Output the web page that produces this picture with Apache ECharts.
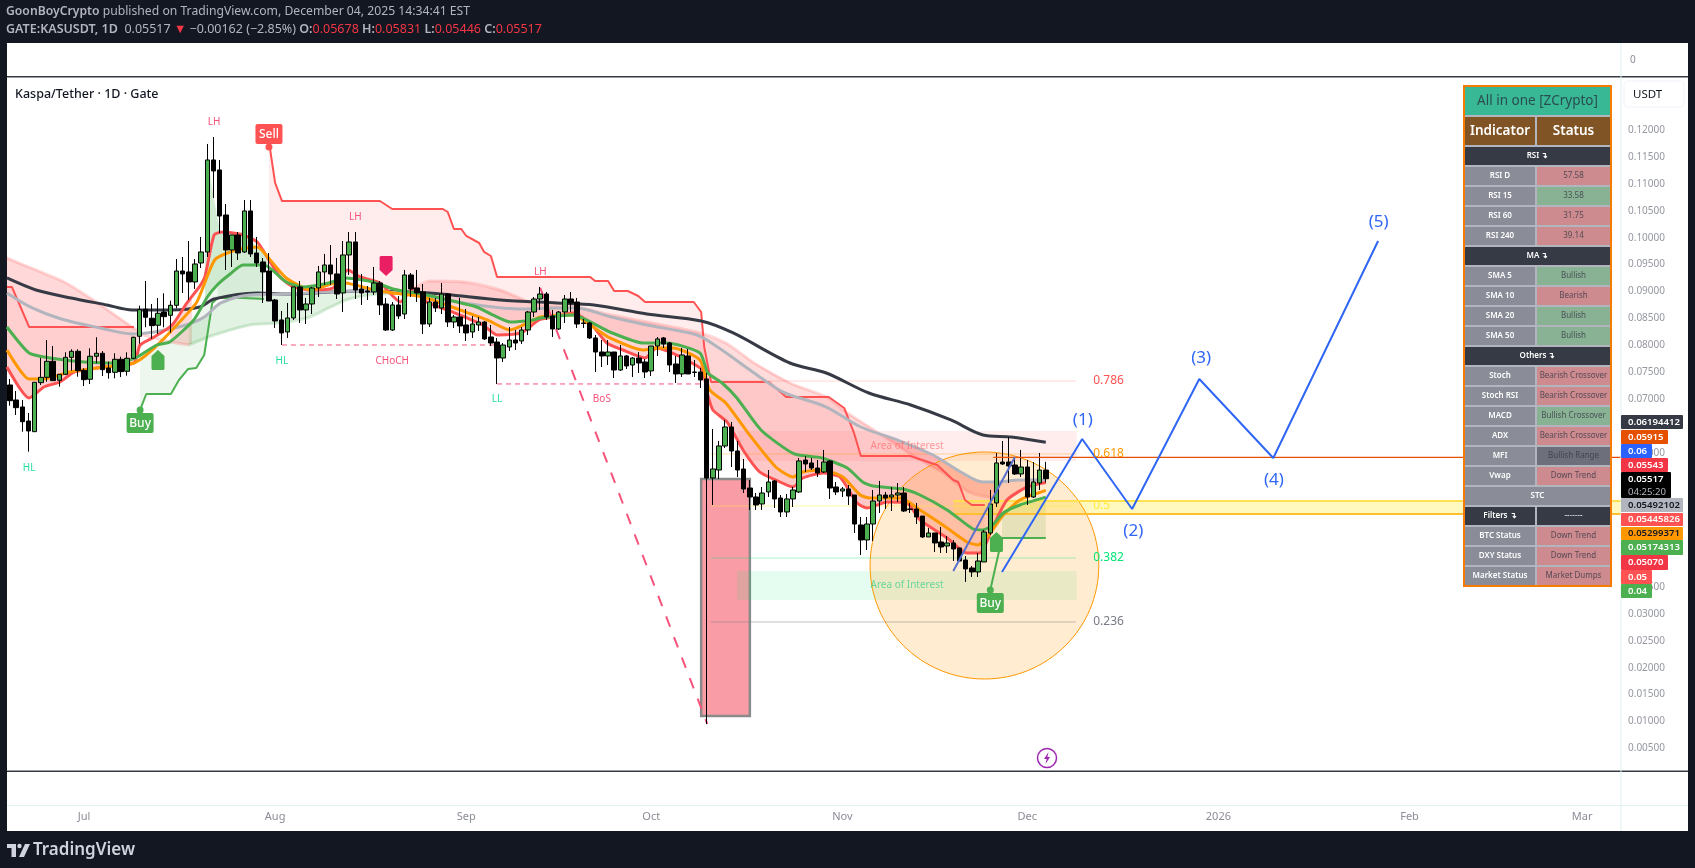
<!DOCTYPE html>
<html>
<head>
<meta charset="utf-8">
<style>html,body{margin:0;padding:0;background:#131722}#c{width:1695px;height:868px}</style>
<script src="https://cdn.jsdelivr.net/npm/echarts@6/dist/echarts.min.js"></script>
</head>
<body>
<div id="c"></div>
<script>
// ---- DATA (day numbers count from 1 Jul 2025 = 0; first candle is 19 Jun 2025) ----
const firstCandleDay = -12;
const opens=[.07261,.06982,.06852,.06591,.06392,.07304,.07404,.07702,.07348,.07460,.07776,.07888,.07534,.07367,.07795,.07851,.07577,.07497,.07739,.07516,.07758,.08167,.08670,.08503,.08373,.08619,.08558,.08744,.09382,.09364,.09178,.09531,.09736,.11448,.11262,.10424,.09773,.10052,.09736,.10499,.09717,.09550,.09382,.08843,.08471,.08247,.08508,.09085,.08657,.08768,.09066,.09364,.09494,.09327,.08973,.09680,.09922,.09048,.09010,.08992,.09159,.08768,.08284,.08750,.08582,.09308,.09066,.08992,.08396,.08805,.08694,.08954,.08433,.08526,.08378,.08247,.08378,.08433,.08154,.08061,.07763,.07968,.08098,.08080,.08284,.08619,.08861,.08954,.08545,.08303,.08619,.08861,.08805,.08415,.08415,.08136,.07875,.07801,.07875,.07540,.07801,.07633,.07763,.07689,.07522,.07986,.08136,.08042,.07652,.07466,.07801,.07503,.07503,.07373,.05530,.05679,.06126,.06480,.06033,.05698,.05344,.05177,.05047,.05270,.05475,.05158,.04898,.05140,.05270,.05865,.05810,.05716,.05642,.05847,.05363,.05288,.05326,.05214,.04656,.04377,.04674,.05102,.05214,.05177,.05214,.05251,.04954,.04954,.04823,.04433,.04507,.04340,.04265,.04321,.04228,.04005,.03856,.03782,.03968,.04507,.05065,.05828,.05828,.05772,.05605,.05735,.05177,.05437,.05678];
const closes=[.06969,.06839,.06578,.06405,.07311,.07404,.07702,.07341,.07460,.07776,.07888,.07527,.07360,.07795,.07851,.07546,.07490,.07739,.07509,.07758,.08149,.08663,.08521,.08365,.08596,.08532,.08744,.09382,.09327,.09178,.09513,.09736,.11448,.11243,.10405,.09773,.10052,.09717,.10499,.09699,.09531,.09364,.08824,.08452,.08229,.08508,.09085,.08657,.08768,.09066,.09364,.09494,.09327,.08954,.09680,.09922,.09029,.08973,.08992,.09159,.08750,.08284,.08750,.08545,.09308,.09048,.08973,.08396,.08805,.08694,.08954,.08433,.08526,.08359,.08229,.08396,.08433,.08117,.08042,.07763,.08005,.08098,.08042,.08284,.08619,.08861,.08954,.08526,.08303,.08619,.08861,.08787,.08396,.08405,.08136,.07875,.07801,.07875,.07540,.07801,.07615,.07763,.07670,.07503,.07986,.08117,.08024,.07633,.07466,.07819,.07466,.07494,.07354,.05530,.05698,.06126,.06480,.06033,.05679,.05326,.05177,.05028,.05251,.05456,.05140,.04898,.05140,.05307,.05847,.05791,.05716,.05623,.05828,.05344,.05270,.05326,.05195,.04674,.04377,.04674,.05102,.05214,.05158,.05214,.05251,.04916,.04944,.04805,.04433,.04507,.04321,.04247,.04321,.04209,.03986,.03838,.03782,.03986,.04526,.05047,.05810,.05791,.05754,.05605,.05735,.05177,.05456,.05679,.05517];
const lows=[.06876,.06703,.06392,.06020,.06392,.07261,.07322,.07335,.07230,.07447,.07527,.07415,.07242,.07280,.07665,.07428,.07378,.07385,.07409,.07434,.07745,.08029,.08335,.08123,.08210,.08335,.08234,.08688,.08973,.08843,.09048,.09438,.09643,.10741,.10089,.09401,.09457,.09587,.09717,.09643,.09457,.08787,.08824,.08322,.08005,.08136,.08471,.08415,.08396,.08582,.08898,.09122,.09122,.08861,.08619,.09308,.08861,.08750,.08843,.08936,.08564,.08266,.08266,.08489,.08489,.08898,.08805,.08210,.08340,.08619,.08582,.08340,.08322,.08229,.08080,.08136,.08266,.08098,.07986,.07280,.07689,.07893,.07912,.08024,.08191,.08526,.08657,.08471,.08154,.08284,.08415,.08619,.08322,.08322,.08117,.07503,.07596,.07633,.07391,.07522,.07559,.07410,.07484,.07391,.07428,.07801,.07949,.07503,.07298,.07410,.07466,.07410,.07205,.00953,.05028,.05512,.06089,.05735,.05549,.05251,.04935,.04935,.04935,.05177,.04972,.04805,.04805,.04991,.05251,.05642,.05679,.05549,.05623,.05140,.05214,.05177,.05028,.04507,.04098,.04191,.04358,.04879,.04954,.04916,.05084,.04898,.04879,.04674,.04414,.04433,.04154,.04135,.04135,.03986,.03986,.03596,.03689,.03689,.03968,.04470,.04991,.05772,.05437,.05586,.05549,.05028,.05158,.05307,.05446];
const highs=[.07373,.07149,.06982,.06740,.07311,.07763,.08098,.07986,.07465,.07869,.07925,.07925,.07571,.07944,.08149,.07893,.07695,.07851,.07788,.07869,.08160,.08737,.09196,.08768,.08880,.08967,.08830,.09605,.09643,.09940,.09605,.10015,.11746,.11875,.11448,.10629,.10052,.10108,.10703,.10703,.10015,.09624,.09717,.08862,.08638,.08787,.09085,.09196,.08880,.09085,.09475,.09699,.09866,.09624,.09940,.10108,.10108,.09327,.09103,.09457,.09196,.08880,.08805,.08917,.09401,.09345,.09401,.09140,.08880,.08880,.09159,.08973,.08564,.08880,.08675,.08545,.08526,.08452,.08378,.08136,.08042,.08340,.08284,.08340,.08638,.08898,.09085,.08992,.08657,.08638,.08936,.08992,.08880,.08489,.08433,.08191,.08098,.08098,.07875,.08005,.07819,.07782,.07875,.07745,.07986,.08154,.08154,.08061,.07801,.07949,.07931,.07726,.07577,.07484,.06442,.06219,.06610,.06573,.06219,.05884,.05493,.05251,.05363,.05679,.05493,.05214,.05233,.05363,.05902,.05940,.05902,.05865,.06052,.05865,.05456,.05363,.05400,.05214,.04805,.04805,.05307,.05475,.05270,.05363,.05437,.05363,.05065,.05065,.04823,.04600,.04507,.04619,.04451,.04377,.04228,.04079,.03893,.04135,.04563,.05307,.05996,.06219,.06294,.05884,.06052,.05865,.05828,.05996,.05831];

const darkMA=[[-12.5,.09252],[-7.8,.09029],[-2.1,.08880],[3.7,.08750],[7.8,.08657],[14.1,.08657],[18.8,.08712],[21.1,.08861],[28.1,.08973],[32.8,.08954],[44.3,.09010],[56,.08973],[67.5,.08843],[76.7,.08787],[82.7,.08750],[91.3,.08582],[100.1,.08452],[105.3,.08229],[114.5,.07670],[120.4,.07484],[127.3,.07112],[134.1,.06889],[140.6,.06610],[145.8,.06331],[150.4,.06294],[156,.06194]];
const greyMA=[[-12.5,.08973],[-8.4,.08694],[-3.7,.08489],[2.6,.08322],[7.8,.08210],[11.4,.08247],[16.5,.08377],[19.5,.08526],[22.2,.08787],[26.9,.08936],[32.8,.08954],[44.3,.09010],[54.7,.08936],[61.6,.08787],[70.4,.08675],[76.7,.08694],[79.8,.08694],[85.5,.08526],[91.3,.08377],[99.4,.08191],[103,.07949],[108.7,.07484],[113.4,.07130],[120.4,.06851],[126,.06479],[131.9,.06238],[137.7,.05958],[142.2,.05642],[145.8,.05456],[148.1,.05456],[151.7,.05493],[156,.05492]];
const redMA=[[-12.5,.07596],[-8.9,.07019],[-6.5,.07224],[-3.9,.07317],[-1.6,.07503],[3.2,.07596],[8.1,.07670],[9.1,.08005],[11.4,.08154],[14.3,.08377],[16.7,.08787],[18.7,.09085],[19.6,.09271],[21.1,.10052],[22.5,.10108],[25.8,.10052],[28.1,.09922],[29.8,.09624],[31.8,.09271],[33.9,.09085],[37.1,.09029],[40.4,.09066],[42.8,.09401],[44.8,.09271],[48,.09159],[51.3,.08805],[53.4,.09066],[55.6,.08805],[58.9,.08657],[62.1,.08508],[64.7,.08377],[67,.08191],[70.9,.08229],[73.8,.08471],[76.1,.08526],[79.3,.08601],[82.1,.08414],[84.8,.08042],[87.4,.07912],[91,.07763],[92.9,.07949],[95,.07875],[98.3,.07689],[100.3,.07540],[101.1,.07112],[102,.06796],[104.3,.06573],[106.9,.06052],[109.6,.05642],[112.2,.05493],[115,.05363],[116.6,.05530],[119.9,.05623],[122.6,.05549],[125.4,.05065],[127,.04972],[130.3,.05084],[133.5,.05065],[135.6,.04749],[140,.04414],[143.2,.04135],[145.3,.04135],[147.4,.04619],[149.7,.05121],[153,.05363],[156,.05446]];
const orangeMA=[[-12.5,.07912],[-8.9,.07373],[-6.5,.07373],[-2.3,.07503],[2.1,.07577],[8.1,.07670],[10.7,.07875],[14.6,.08322],[18.3,.08805],[21.2,.09587],[24.7,.09773],[28.1,.09829],[29.8,.09643],[32.8,.09252],[36.8,.09029],[41.4,.09178],[47.2,.09029],[50.1,.08973],[53,.08936],[55.6,.08880],[61,.08657],[65.4,.08471],[69.1,.08284],[72.3,.08433],[74,.08526],[79.3,.08564],[82.6,.08340],[85.3,.08136],[90.7,.07912],[92.9,.07949],[95.5,.07949],[99.9,.07726],[101.5,.07168],[104.1,.06926],[108.2,.06294],[112.2,.05735],[115,.05549],[116.6,.05642],[119.9,.05679],[123.1,.05549],[125.9,.05214],[127.5,.05158],[132.4,.05158],[135.6,.04935],[139.3,.04656],[143.2,.04340],[145,.04284],[147,.04507],[149.1,.04842],[151.8,.05121],[156,.05299]];
const greenMA=[[-12.5,.08340],[-8.9,.07856],[-5.5,.07763],[0,.07689],[5.4,.07670],[8.3,.07763],[11.8,.08005],[13.9,.08061],[17.8,.08471],[20,.08898],[21.6,.09122],[23.5,.09308],[25.8,.09494],[29.2,.09494],[32.8,.09178],[35.5,.09085],[39.7,.09159],[42.5,.09252],[46.9,.09178],[50.1,.09048],[55.6,.08936],[60.5,.08805],[63.7,.08712],[66.3,.08564],[69.1,.08433],[72.8,.08471],[74,.08508],[79.3,.08564],[85.3,.08247],[90.7,.08042],[94.6,.08042],[99.9,.07856],[101.2,.07484],[103.5,.07298],[105.9,.07019],[109.8,.06424],[115.2,.05977],[119.7,.05902],[123.8,.05716],[126.3,.05456],[128,.05381],[132.8,.05326],[135.6,.05214],[140,.04935],[144.2,.04581],[145.8,.04563],[147.4,.04656],[149.1,.04879],[151.8,.05028],[156,.05174]];
const paleUpperLeft=[[-12.5,.09624],[-7.8,.09401],[-3.2,.09178],[1.5,.08843],[7.8,.08340],[9.1,.08247]];
const paleLower=[[9.1,.08210],[14.1,.08061],[17,.08005],[21.1,.08191],[26.9,.08377],[31.6,.08414],[36.2,.08508],[39.7,.08694],[42.5,.08843],[46.1,.08936],[52.1,.08973]];
const paleUpperRight=[[52.9,.08973],[56,.09196],[61.6,.09178],[67.5,.09029],[72.2,.08805],[74,.08750],[79.8,.08712],[85.5,.08564],[91.3,.08433],[99.4,.08247],[104.1,.08042],[108.7,.07670],[114.5,.07298],[120.4,.07037],[123.8,.06740],[128.9,.06368],[134.8,.05921],[139.4,.05623],[143.5,.05270],[147.6,.05158]];
const stopRedLeft=[[-12.5,.09085],[-11.7,.09085],[-8.9,.08340],[8.1,.08340]];
const stopRedSell=[[30,.11689],[30.2,.11634],[31,.11020],[32.1,.10685],[48,.10685],[50,.10536],[58.2,.10536],[59,.10480],[60,.10164],[61.2,.10164],[62,.10034],[64.1,.09903],[64.9,.09736],[66,.09661],[67,.09271],[82.1,.09271],[82.9,.09196],[85,.09196],[86,.09010],[88.2,.09010],[88.4,.08973],[89.9,.08917],[91,.08805],[98.9,.08805],[100.1,.08619],[100.6,.07968],[101.7,.07317],[111.1,.07317],[113.9,.07037],[120.8,.07037],[123.3,.06833],[124.9,.06368],[126,.05940],[134,.05940],[138.4,.05772],[141,.05493],[141.8,.05456],[142.9,.05121],[144,.05028],[146.1,.05028]];
const stopGreenFirst=[[9.1,.06796],[10.1,.07093],[14.1,.07093],[15.4,.07354],[16.9,.07559],[18.2,.07577],[19.5,.07819],[20.8,.08787],[21.7,.08880],[25.8,.08880],[29.2,.08861]];
const stopGreenLast=[[147,.03446],[148.9,.04414],[156,.04414]];
const greenPeak=[[19.6,.09773],[20.1,.11448],[21.1,.10703],[22.1,.10108],[25.8,.10108],[28,.09829],[29.8,.09624]];
const swingHL=[[32.1,.08005],[66.5,.08005]];
const swingLL=[[67,.07280],[100.6,.07280]];
const dropDash=[[74,.09070],[101.1,.00953]];
const fibLevels=[.786,.618,.5,.382,.236];
const fibPrices=[.07335,.05977,.05009,.04042,.02851];
const fibStart=101.7, fibEnd=160.9, fibLabelDay=163.7;
const wave=[[148.9,.03781],[161.9,.06256],[170,.04953],[180.9,.07372],[192.9,.05902],[209.9,.09940]];
const waveChannel=[[141,.03800],[151,.05921]];
const waveLabels=[['(1)',162,.06610],['(2)',170.2,.04544],['(3)',181.2,.07763],['(4)',193,.05493],['(5)',210,.10294]];
const swingLabels=[['LH',21.1,.12155],['LH',44,.10387],['LH',74,.09364],['CHoCH',50,.07708],['BoS',84,.07000]];
const pivotLabels=[['HL',-8.9,.05716],['HL',32.1,.07708],['LL',67,.07000]];
const interestLabels=[['Area of Interest',133.5,.06126,'#ff5252'],['Area of Interest',133.5,.03539,'#00c77a']];
const zoneTop=[106.1,161,.06405,.05847], zoneBottom=[105.9,161,.03800,.03260], dropBox=[100.1,108,.05512,.01102], goldBand=[141,249.3,.05102,.04860];
const focusEllipse=[127.5,164.6,.06014,.01790];
const levelLine=[[147.5,.05915],[249.3,.05915]];
const buySignals=[[9.1,.06796],[147,.03446]], sellSignals=[[30,.11689]];
const upArrows=[[12,.07726],[148,.04339]], downArrows=[[49,.09475]];
const alertPoint=[156.2,.00320];
const monthDays=[0,31,62,92,123,153,184,215,243];
const monthNames=['Jul','Aug','Sep','Oct','Nov','Dec','2026','Feb','Mar'];
const priceLabelsMax=.12;
const tableTitle='All in one [ZCrypto]';
const tableHead=['Indicator','Status'];
const tableRows=[['RSI ↴'],['RSI D','57.58','r'],['RSI 15','33.58','g'],['RSI 60','31.75','r'],['RSI 240','39.14','r'],['MA ↴'],['SMA 5','Bullish','g'],['SMA 10','Bearish','r'],['SMA 20','Bullish','g'],['SMA 50','Bullish','g'],['Others ↴'],['Stoch','Bearish Crossover','r'],['Stoch RSI','Bearish Crossover','r'],['MACD','Bullish Crossover','g'],['ADX','Bearish Crossover','r'],['MFI','Bullish Range','n'],['Vwap','Down Trend','r'],['STC',null,'s'],['Filters ↴','-------','d'],['BTC Status','Down Trend','r'],['DXY Status','Down Trend','r'],['Market Status','Market Dumps','r']];
const badgeTexts=['0.06194412','0.05915','0.06','0.05543','0.05517','0.05492102','0.05445826','0.05299371','0.05174313','0.05070','0.05','0.04'];

// ---- LAYOUT / STYLE ----
const FONT='"Noto Sans"';
const C={bg:'#131722',red:'#ff5252',orange:'#ff9800',green:'#4caf50',grey:'#b2b5be',dark:'#363a45',pink:'#f7527a',teal:'#26dfa0',blue:'#2962ff'};
const badgeTop=[415,430,444,458,472,498,513,527,540,555,570,584];
const badgeH=[14,14,14,14,26,14,13,13,15,15,14,14];
const badgeW=[62,47,31,47,50,62,62,62,62,47,31,31];
const badgeFill=['#363a45','#e65100','#2962ff','#f23645','#000000','#b2b5be','#ff5252','#ff9800','#4caf50','#f23645','#ff5252','#4caf50'];
const badgeInk=['#fff','#fff','#fff','#fff','#fff','#131722','#fff','#131722','#fff','#fff','#fff','#fff'];

const candleRows=opens.map((o,i)=>[firstCandleDay+i,o,closes[i],lows[i],highs[i]]);

function lineSeries(pts,color,width,extra){
  return Object.assign({type:'line',data:pts,showSymbol:false,symbol:'none',silent:true,z:3,animation:false,
    lineStyle:{color:color,width:width}},extra||{});
}
// boundary of a fill: the points of a drawn line inside [d0,d1], closed with the line's value at both ends
function valueAt(a,d){
  if(d<=a[0][0])return a[0][1];
  for(let i=1;i<a.length;i++){if(d<=a[i][0]){const p=a[i-1],q=a[i];return p[1]+(q[1]-p[1])*(d-p[0])/(q[0]-p[0]);}}
  return a[a.length-1][1];
}
function slice(a,d0,d1){
  const inner=a.filter(p=>p[0]>d0&&p[0]<d1);
  return [[d0,valueAt(a,d0)]].concat(inner,[[d1,valueAt(a,d1)]]);
}
function fill(u,l,d0,d1,color,z){
  const poly=slice(u,d0,d1).concat(slice(l,d0,d1).reverse());
  return {type:'custom',silent:true,z:z||1,animation:false,data:[[0]],
    renderItem:(p,api)=>({type:'polygon',shape:{points:poly.map(q=>api.coord(q))},style:{fill:color},silent:true})};
}
function zone(r,color,border,bw){
  return {type:'custom',silent:true,z:1,animation:false,data:[[0]],
    renderItem:(p,api)=>{const a=api.coord([r[0],r[2]]),b=api.coord([r[1],r[3]]);
      return {type:'rect',shape:{x:a[0],y:a[1],width:b[0]-a[0],height:b[1]-a[1]},style:{fill:color,stroke:border||null,lineWidth:bw||0},silent:true};}};
}
function labels(items,color,size,opacity){
  return {type:'custom',silent:true,z:6,animation:false,data:items.map((_,i)=>[i]),
    renderItem:(p,api)=>{const t=items[p.dataIndex],c=api.coord([t[1],t[2]]);
      return {type:'text',style:{x:c[0],y:c[1],text:t[0],fill:t[3]||color,font:size+'px '+FONT,align:'center',verticalAlign:'middle',opacity:opacity||1},silent:true};}};
}
function tag(rows,text,color,above){
  return {type:'custom',silent:true,z:7,animation:false,data:rows.map((_,i)=>[i]),
    renderItem:(p,api)=>{const c=api.coord(rows[p.dataIndex]),ry=above?c[1]-23:c[1]+3;
      return {type:'group',children:[
        {type:'circle',shape:{cx:c[0],cy:c[1],r:3.5},style:{fill:color}},
        {type:'rect',shape:{x:c[0]-13.5,y:ry,width:27,height:20,r:2},style:{fill:color}},
        {type:'text',style:{x:c[0],y:ry+11,text:text,fill:'#fff',font:'500 12px '+FONT,align:'center',verticalAlign:'middle'}}]};}};
}
function house(rows,color,up){
  return {type:'custom',silent:true,z:7,animation:false,data:rows.map((_,i)=>[i]),
    renderItem:(p,api)=>{const c=api.coord(rows[p.dataIndex]),s=up?1:-1;
      const pts=[[0,-10],[6.5,-4],[6.5,9],[5.5,10],[-5.5,10],[-6.5,9],[-6.5,-4]].map(q=>[c[0]+q[0],c[1]+q[1]*s]);
      return {type:'polygon',shape:{points:pts},style:{fill:color}};}};
}
const alertSeries={type:'custom',silent:true,z:7,animation:false,data:[[0]],
  renderItem:(p,api)=>{const c=api.coord(alertPoint);
    const bolt=[[1.5,-6],[-3,1],[-0.4,1],[-1.5,6],[3,-1],[0.4,-1]].map(q=>[c[0]+q[0],c[1]+q[1]]);
    return {type:'group',children:[
      {type:'circle',shape:{cx:c[0],cy:c[1],r:9.5},style:{fill:'#fff',stroke:'#9c27b0',lineWidth:1.5}},
      {type:'polygon',shape:{points:bolt},style:{fill:'#9c27b0'}}]};}};
const ellipseSeries={type:'custom',silent:true,z:1,animation:false,data:[[0]],
  renderItem:(p,api)=>{const a=api.coord([focusEllipse[0],focusEllipse[2]]),b=api.coord([focusEllipse[1],focusEllipse[3]]);
    return {type:'ellipse',shape:{cx:(a[0]+b[0])/2,cy:(a[1]+b[1])/2,rx:(b[0]-a[0])/2,ry:(b[1]-a[1])/2},
      style:{fill:'rgba(255,152,0,0.18)',stroke:'#ff9800',lineWidth:1}};}};
const fibInk=['#ff5252','#ff9800','#ffeb3b','#00e676','#787b86'];
const fibLineInk=['rgba(255,82,82,0.25)','rgba(255,152,0,0.35)','rgba(255,235,59,0.45)','rgba(0,230,118,0.35)','rgba(120,123,134,0.45)'];

const R='rgba(255,82,82,';const G='rgba(76,175,80,';
const series=[
  zone(dropBox,'#f99ca5','#8a8a8a',2.5),
  fill(paleUpperLeft,redMA,-12.5,9.1,R+'0.22)'),
  fill(stopRedLeft,redMA,-12.5,8.1,R+'0.08)'),
  fill(redMA,paleLower,14,17.5,R+'0.22)'),
  fill(greenMA,stopGreenFirst,9.1,21.7,G+'0.10)'),
  fill(greenPeak,greenMA,19.6,29.8,G+'0.26)'),
  fill(greenMA,stopGreenFirst,21.7,29.2,G+'0.22)'),
  fill(greyMA,paleLower,17,52,G+'0.16)'),
  fill(stopRedSell,greenMA,30,100.6,R+'0.10)'),
  fill(paleUpperRight,greyMA,52.9,147.6,R+'0.20)'),
  fill(greyMA,redMA,54.7,156,R+'0.24)'),
  fill(stopRedSell,redMA,101.7,146.1,R+'0.10)'),
  fill(greenMA,stopGreenLast,148.9,156,G+'0.16)'),
  zone(zoneTop,R+'0.10)'),
  zone(zoneBottom,'rgba(0,230,118,0.10)'),
  zone(goldBand,'rgba(255,235,59,0.32)'),
  ellipseSeries,
  lineSeries(paleUpperLeft,R+'0.22)',3,{smooth:.3}),
  lineSeries(paleUpperRight,R+'0.22)',3,{smooth:.3}),
  lineSeries(paleLower.filter(p=>p[0]<=17),R+'0.22)',3,{smooth:.3}),
  lineSeries(paleLower.filter(p=>p[0]>=17),G+'0.22)',3,{smooth:.3})
].concat(
  fibPrices.map((v,i)=>lineSeries([[fibStart,v],[fibEnd,v]],fibLineInk[i],1)),
  [
  lineSeries([[goldBand[0],goldBand[2]],[goldBand[1],goldBand[2]]],'#ffe14f',2),
  lineSeries([[goldBand[0],goldBand[3]],[goldBand[1],goldBand[3]]],'#ffbf2e',2),
  lineSeries(stopRedLeft,C.red,2),
  lineSeries(stopRedSell,C.red,2),
  lineSeries(stopGreenFirst,C.green,2),
  lineSeries(stopGreenLast,C.green,2),
  lineSeries(darkMA,C.dark,3,{smooth:.3}),
  lineSeries(greyMA,C.grey,3,{smooth:.3}),
  lineSeries(redMA,C.red,3,{smooth:.2}),
  lineSeries(orangeMA,C.orange,3,{smooth:.2}),
  lineSeries(greenMA,C.green,3,{smooth:.2}),
  lineSeries(swingHL,C.pink,1,{lineStyle:{color:C.pink,width:1,type:[5,4]}}),
  lineSeries(swingLL,C.pink,1,{lineStyle:{color:C.pink,width:1,type:[5,4]}}),
  lineSeries(dropDash,C.pink,2,{lineStyle:{color:C.pink,width:2,type:[11,11]}}),
  {type:'candlestick',data:candleRows,barWidth:5,z:4,silent:true,animation:false,
    itemStyle:{color:C.green,color0:'#000',borderColor:'#000',borderColor0:'#000',borderWidth:1}},
  lineSeries(levelLine,'#e65100',1.2,{z:5}),
  lineSeries(waveChannel,'#5a70cc',2,{z:5}),
  lineSeries(wave,C.blue,2,{z:5,lineStyle:{color:'#2f66f5',width:2}}),
  labels(swingLabels,C.pink,10),
  labels(pivotLabels,C.teal,10),
  labels(interestLabels,'#ff5252',10,.55),
  labels(waveLabels,'#2f66f5',17),
  {type:'custom',silent:true,z:6,animation:false,data:fibPrices.map((_,i)=>[i]),
    renderItem:(p,api)=>{const c=api.coord([fibLabelDay,fibPrices[p.dataIndex]]);
      return {type:'text',style:{x:c[0],y:c[1],text:String(fibLevels[p.dataIndex]),fill:fibInk[p.dataIndex],font:'12px '+FONT,align:'left',verticalAlign:'middle'}};}},
  tag(buySignals,'Buy',C.green,false),
  tag(sellSignals,'Sell',C.red,true),
  house(upArrows,C.green,true),
  house(downArrows,'#e91e63',false),
  alertSeries
]);

// ---- CHROME (frame, header, table, price badges) ----
const g=[];
function rect(x,y,w,h,fill,z,r){g.push({type:'rect',z:z,silent:true,shape:{x,y,width:w,height:h,r:r||0},style:{fill}});}
function text(x,y,t,fill,font,align,z){g.push({type:'text',z:z,silent:true,style:{x,y,text:t,fill,font,align:align||'left',verticalAlign:'middle'}});}
rect(7,43,1681,788,'#ffffff',-10);
rect(7,76,1681,1.5,C.dark,-5);
rect(7,770.5,1681,1.5,C.dark,8);
rect(7,805,1681,1,'#e0f2f1',-5);
rect(1620.5,43,1,788,'#e0f2f1',8);
g.push({type:'text',z:9,silent:true,style:{x:6,y:12,fill:'#b2b5be',verticalAlign:'middle',
  text:'{b|GoonBoyCrypto} published on TradingView.com, December 04, 2025 14:34:41 EST',font:'12.2px '+FONT,
  rich:{b:{font:'600 12.2px '+FONT,fill:'#b2b5be'}}}});
g.push({type:'text',z:9,silent:true,style:{x:6,y:29,fill:'#b2b5be',verticalAlign:'middle',font:'12.5px '+FONT,
  text:'{b|GATE:KASUSDT, 1D}  0.05517 {r|▼} −0.00162 (−2.85%) {b|O:}{r|0.05678} {b|H:}{r|0.05831} {b|L:}{r|0.05446} {b|C:}{r|0.05517}',
  rich:{b:{font:'600 12.5px '+FONT,fill:'#b2b5be'},r:{font:'12.5px '+FONT,fill:'#f23645'}}}});
text(15,94,'Kaspa/Tether · 1D · Gate','#131722','500 12.5px '+FONT,'left',9);
text(1630,60.5,'0','#8a8d96','10px '+FONT,'left',9);
// USDT button
g.push({type:'rect',z:9,silent:true,shape:{x:1624,y:81,width:60,height:26,r:4},style:{fill:'#fff',stroke:'#f0f3fa',lineWidth:1}});
text(1633,95,'USDT','#131722','11.5px '+FONT,'left',10);
// TradingView mark
g.push({type:'polygon',z:9,silent:true,shape:{points:[[7,844],[16,844],[16,857],[11.5,857],[11.5,848],[7,848]]},style:{fill:'#d1d4dc'}});
g.push({type:'circle',z:9,silent:true,shape:{cx:19.5,cy:846,r:2.2},style:{fill:'#d1d4dc'}});
g.push({type:'polygon',z:9,silent:true,shape:{points:[[25,844],[30,844],[24,857],[19,857]]},style:{fill:'#d1d4dc'}});
text(33,850,'TradingView','#d1d4dc','600 17px '+FONT,'left',9);
// table
const T={x:1463,y:85,w:149,h:502,c1:1465,w1:70,c2:1537,w2:73};
rect(T.x,T.y,T.w,T.h,'#f57c00',12);
rect(T.x+2,T.y+2,T.w-4,T.h-4,'#b2b5be',13);
rect(T.c1,87,145,28,'#38b894',14);
text(T.c1+72.5,101.5,tableTitle,'#2b4c50','13.5px '+FONT,'center',15);
rect(T.c1,117,T.w1,28,'#805425',14);rect(T.c2,117,T.w2,28,'#805425',14);
text(T.c1+T.w1/2,131,tableHead[0],'#fff','600 13.5px '+FONT,'center',15);
text(T.c2+T.w2/2,131,tableHead[1],'#fff','600 13.5px '+FONT,'center',15);
const tone={r:'#cd8a8f',g:'#89b294',n:'#6d707a',d:C.dark};
tableRows.forEach((row,i)=>{
  const y=147+i*20,h=18,ym=y+h/2;
  if(row.length===1){rect(T.c1,y,145,h,C.dark,14);text(T.c1+72.5,ym,row[0],'#fff','600 8px '+FONT,'center',15);return;}
  if(row[2]==='s'){rect(T.c1,y,145,h,'#8a8d98',14);text(T.c1+72.5,ym,row[0],'#fff','600 8px '+FONT,'center',15);return;}
  const dark=row[2]==='d';
  rect(T.c1,y,T.w1,h,dark?C.dark:'#8a8d98',14);
  rect(T.c2,y,T.w2,h,tone[row[2]],14);
  text(T.c1+T.w1/2,ym,row[0],'#fff','600 8px '+FONT,'center',15);
  text(T.c2+T.w2/2,ym,row[1],dark?'#fff':'rgba(54,58,69,0.8)','8px '+FONT,'center',15);
});
// price badges
badgeTexts.forEach((t,i)=>{
  rect(1621,badgeTop[i],badgeW[i],badgeH[i],badgeFill[i],16,1);
  text(1628,badgeTop[i]+(i===4?7:badgeH[i]/2),t,badgeInk[i],'600 9.6px '+FONT,'left',17);
});
text(1628,492,'04:25:20','#b2b5be','9.6px '+FONT,'left',17);

const chart=echarts.init(document.getElementById('c'));
chart.setOption({
  backgroundColor:C.bg,animation:false,
  grid:{left:7,right:74,top:76.56,bottom:92.8,show:false},
  xAxis:{type:'value',min:-12.49,max:249.3,splitLine:{show:false},axisLine:{show:false},axisTick:{show:false},
    axisLabel:{customValues:monthDays,color:'#8a8d96',fontSize:11,fontFamily:'"Noto Sans"',margin:36,
      formatter:v=>monthNames[monthDays.indexOf(v)]||''}},
  yAxis:{type:'value',position:'right',min:0,max:.13,interval:.005,splitLine:{show:false},axisLine:{show:false},axisTick:{show:false},
    axisLabel:{margin:7,color:'#9598a1',fontSize:10,fontFamily:'"Noto Sans"',padding:[2,0,0,0],
      formatter:v=>(v>0&&v<=priceLabelsMax+1e-9)?v.toFixed(5):''}},
  graphic:{elements:g},
  series:series
});
</script>
</body>
</html>
